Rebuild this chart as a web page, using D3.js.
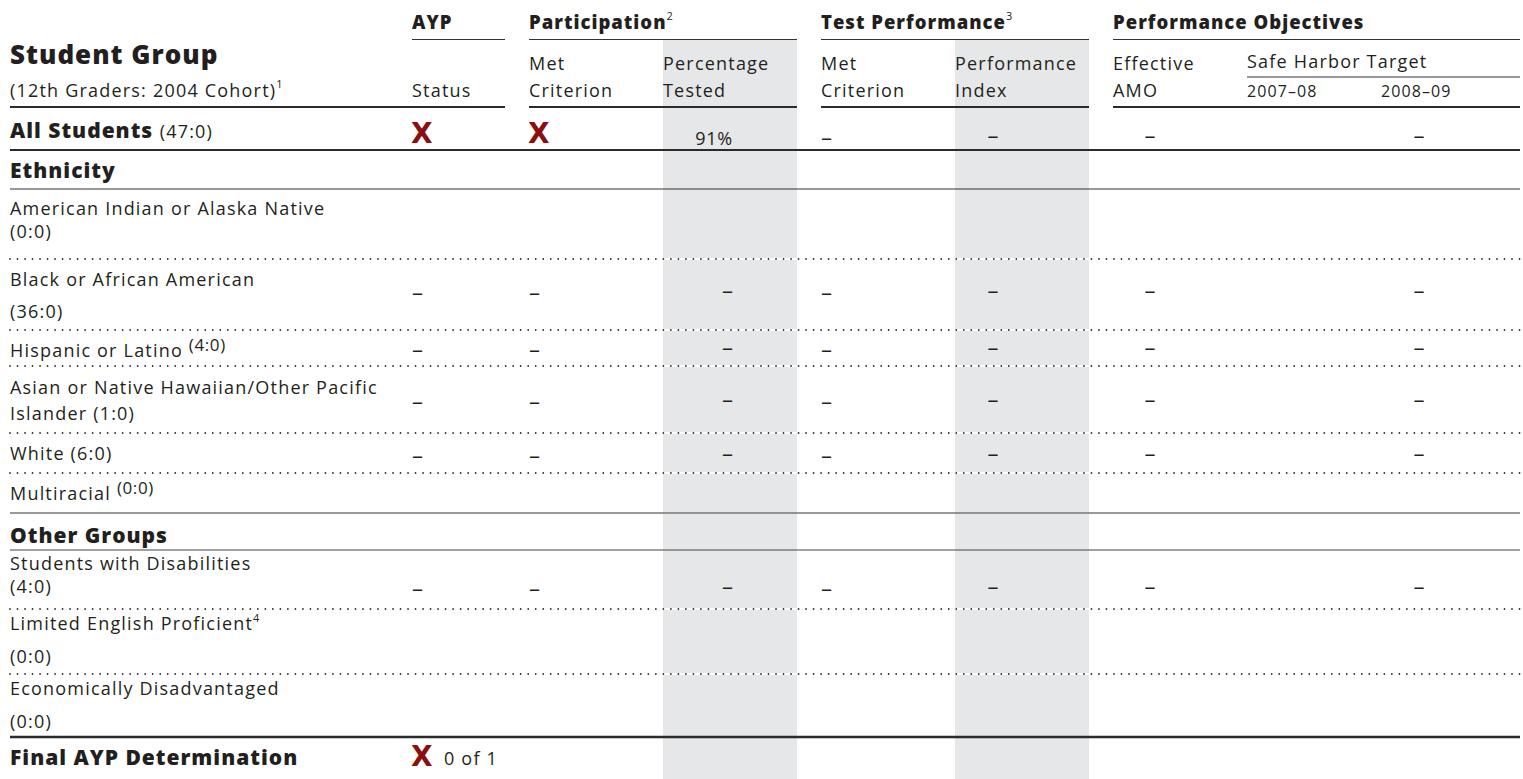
<!DOCTYPE html>
<meta charset="utf-8">
<style>
body { margin: 0; background: #fff; }
svg { display: block; }
text { font-family: "Open Sans", sans-serif; fill: #231f20; font-size: 18px; letter-spacing: 1.2px; }
.bold { font-weight: 800; letter-spacing: 1px; }
.mark { font-family: "DejaVu Sans", sans-serif; font-weight: bold; fill: #8b0f0f; letter-spacing: 0; }
.sup { font-size: 11px; letter-spacing: 0; font-weight: 400; }
</style>
<svg width="1523" height="779"></svg>
<script src="https://d3js.org/d3.v7.min.js"></script>
<script>
// ---- data ----
var groupHeads = ["AYP", "Participation", "Test Performance", "Performance Objectives"];
var groupHeadNotes = ["", "2", "3", ""];
var groupSizes = [1, 2, 2, 3];
var colLine1 = ["", "Met", "Percentage", "Met", "Performance", "Effective", "", ""];
var colLine2 = ["Status", "Criterion", "Tested", "Criterion", "Index", "AMO", "2007–08", "2008–09"];
var subHead = "Safe Harbor Target";

var sections = ["Ethnicity", "Other Groups"];
var groupNames = [
  "American Indian or Alaska Native",
  "Black or African American",
  "Hispanic or Latino",
  "Asian or Native Hawaiian/Other Pacific Islander",
  "White",
  "Multiracial",
  "Students with Disabilities",
  "Limited English Proficient",
  "Economically Disadvantaged"
];
var groupCounts = ["(0:0)", "(36:0)", "(4:0)", "(1:0)", "(6:0)", "(0:0)", "(4:0)", "(0:0)", "(0:0)"];
var groupFootnotes = ["", "", "", "", "", "", "", "4", ""];
var groupSection = [0, 0, 0, 0, 0, 0, 1, 1, 1];

var allLabel = "All Students", allCount = "(47:0)";
var allValues = ["x", "x", "91%", "–", "–", "–", "", "–"];
var groupValues = [
  ["", "", "", "", "", "", "", ""],
  ["–", "–", "–", "–", "–", "–", "", "–"],
  ["–", "–", "–", "–", "–", "–", "", "–"],
  ["–", "–", "–", "–", "–", "–", "", "–"],
  ["–", "–", "–", "–", "–", "–", "", "–"],
  ["", "", "", "", "", "", "", ""],
  ["–", "–", "–", "–", "–", "–", "", "–"],
  ["", "", "", "", "", "", "", ""],
  ["", "", "", "", "", "", "", ""]
];
var finalLabel = "Final AYP Determination";
var finalValue = ["x", "0 of 1"];

// ---- layout ----
var svg = d3.select("svg");
var left = 10, right = 1520, gap = 24;
var colWidths = [93, 134, 134, 134, 134, 134, 134, 139];
var shaded = [2, 4];

// column starts, with a gap between column groups
var colX = [], x = 412, k = 0;
groupSizes.forEach(function(n) {
  for (var i = 0; i < n; i++) { colX.push(x); x += colWidths[k++]; }
  x += gap;
});
var colEnd = colX.map(function(c, i) { return c + colWidths[i]; });
var groupStart = [], groupEnd = [];
k = 0;
groupSizes.forEach(function(n) { groupStart.push(colX[k]); groupEnd.push(colEnd[k + n - 1]); k += n; });

// where a value sits inside its column
var valPos = [
  {dx: 0, anchor: "start", dy: 2},
  {dx: 0, anchor: "start", dy: 2},
  {dx: 70, anchor: "end", dy: 0},
  {dx: 0, anchor: "start", dy: 2},
  {dx: 38, anchor: "middle", dy: 0},
  {dx: 37, anchor: "middle", dy: 0},
  {dx: 38, anchor: "middle", dy: 0},
  {dx: 38, anchor: "middle", dy: 0}
];

var rowLayout = [
  {top: 189, kind: "two", y: [215, 238]},
  {top: 259, kind: "two", y: [286, 318], dash: 292},
  {top: 330, kind: "raised", y: [357], dash: 349},
  {top: 366, kind: "wrap", split: 5, y: [394, 420], dash: 401},
  {top: 433, kind: "inline", y: [460], dash: 455},
  {top: 473, kind: "raised", y: [500]},
  {top: 550, kind: "two", y: [570, 593], dash: 588},
  {top: 609, kind: "two", y: [630, 663]},
  {top: 674, kind: "two", y: [695, 728]}
];

// shaded columns
svg.append("g").selectAll("rect").data(shaded).join("rect")
  .attr("x", function(d) { return colX[d]; })
  .attr("y", 40)
  .attr("width", function(d) { return colWidths[d]; })
  .attr("height", 779 - 40)
  .attr("fill", "#e6e7e8");

// ---- header ----
var head = svg.append("g");
head.append("text").attr("class", "bold").attr("x", left).attr("y", 64)
  .style("font-size", "26px").text("Student Group");
var sub = head.append("text").attr("x", left).attr("y", 97);
sub.append("tspan").text("(12th Graders: 2004 Cohort)");
sub.append("tspan").attr("class", "sup").attr("dy", -9).text("1");

groupHeads.forEach(function(h, g) {
  var t = head.append("text").attr("class", "bold").attr("x", groupStart[g]).attr("y", 29)
    .style("font-size", "18.5px");
  t.append("tspan").text(h);
  if (groupHeadNotes[g]) t.append("tspan").attr("class", "sup").attr("dy", -9).text(groupHeadNotes[g]);
  head.append("line").attr("x1", groupStart[g]).attr("x2", groupEnd[g])
    .attr("y1", 39.5).attr("y2", 39.5).attr("stroke", "#333").attr("stroke-width", 1);
  head.append("line").attr("x1", g === 0 ? left : groupStart[g]).attr("x2", groupEnd[g])
    .attr("y1", 107).attr("y2", 107).attr("stroke", "#2b2b2b").attr("stroke-width", 2.2);
});

colLine1.forEach(function(t, i) {
  if (t) head.append("text").attr("x", colX[i]).attr("y", 70).text(t);
  var c = head.append("text").attr("x", colX[i]).attr("y", 96.5).text(colLine2[i]);
  if (i >= 6) c.style("font-size", "16px").style("letter-spacing", "1.1px");
});
head.append("text").attr("x", colX[6]).attr("y", 68).text(subHead);
head.append("line").attr("x1", colX[6]).attr("x2", colEnd[7]).attr("y1", 77).attr("y2", 77)
  .attr("stroke", "#333").attr("stroke-width", 1.2);

// ---- helpers ----
function hline(y, w, color, dotted) {
  if (dotted) {
    shaded.forEach(function(c) {
      svg.append("line").attr("x1", colX[c]).attr("x2", colEnd[c]).attr("y1", y).attr("y2", y)
        .attr("stroke", "#fff").attr("stroke-width", 2);
    });
  }
  var l = svg.append("line").attr("x1", left).attr("x2", right).attr("y1", y).attr("y2", y)
    .attr("stroke", color).attr("stroke-width", w);
  if (dotted) l.attr("stroke-dasharray", "0.01,7.5").attr("stroke-linecap", "round");
}

function drawValues(vals, dashY, textY) {
  vals.forEach(function(v, i) {
    if (!v) return;
    var p = valPos[i];
    if (v === "x") {
      svg.append("text").attr("class", "mark").attr("x", colX[i] - 1).attr("y", textY)
        .style("font-size", "28px").text("X");
    } else if (v === "–") {
      svg.append("text").attr("x", colX[i] + p.dx).attr("y", dashY + 6 + p.dy)
        .attr("text-anchor", p.anchor).style("font-size", "22px").style("letter-spacing", "0")
        .text(v);
    } else {
      svg.append("text").attr("x", colX[i] + p.dx).attr("y", textY + 2)
        .attr("text-anchor", p.anchor).style("letter-spacing", "0.8px").text(v);
    }
  });
}

// ---- All Students row ----
var all = svg.append("text").attr("x", left).attr("y", 138);
all.append("tspan").attr("class", "bold").style("font-size", "21px").text(allLabel + " ");
all.append("tspan").text(allCount);
drawValues(allValues, 137, 143);
hline(150, 2.2, "#2b2b2b");

// ---- sections and groups ----
var sectionY = [178, 543];
sections.forEach(function(s, i) {
  svg.append("text").attr("class", "bold").attr("x", left).attr("y", sectionY[i])
    .style("font-size", "21px").text(s);
});
hline(189, 1.2, "#333");
hline(550, 1.2, "#444");

groupNames.forEach(function(name, r) {
  var L = rowLayout[r];
  var fn = groupFootnotes[r];
  var t1 = svg.append("text").attr("x", left).attr("y", L.y[0]);
  if (L.kind === "two") {
    t1.append("tspan").text(name);
    if (fn) t1.append("tspan").attr("class", "sup").attr("dy", -8).text(fn);
    svg.append("text").attr("x", left).attr("y", L.y[1]).text(groupCounts[r]);
  } else if (L.kind === "wrap") {
    var words = name.split(" ");
    t1.text(words.slice(0, L.split).join(" "));
    svg.append("text").attr("x", left).attr("y", L.y[1])
      .text(words.slice(L.split).join(" ") + " " + groupCounts[r]);
  } else if (L.kind === "raised") {
    t1.append("tspan").text(name + " ");
    t1.append("tspan").attr("dy", -6).style("font-size", "17px").style("letter-spacing", "0.6px")
      .text(groupCounts[r]);
  } else {
    t1.text(name + " " + groupCounts[r]);
  }
  if (L.dash) drawValues(groupValues[r], L.dash, L.y[0]);

  // line under the row
  var last = r === groupNames.length - 1 || groupSection[r + 1] !== groupSection[r];
  var bottom = last ? (r === groupNames.length - 1 ? 737 : 513) : rowLayout[r + 1].top;
  if (!last) hline(bottom, 1.8, "#333", true);
  else if (r === groupNames.length - 1) hline(bottom, 2.6, "#2b2b2b");
  else hline(bottom, 1.4, "#777");
});

// ---- final row ----
svg.append("text").attr("class", "bold").attr("x", left).attr("y", 765)
  .style("font-size", "21px").text(finalLabel);
svg.append("text").attr("class", "mark").attr("x", colX[0] - 1).attr("y", 766)
  .style("font-size", "28px").text("X");
svg.append("text").attr("x", colX[0] + 32).attr("y", 765).text(finalValue[1]);
</script>
